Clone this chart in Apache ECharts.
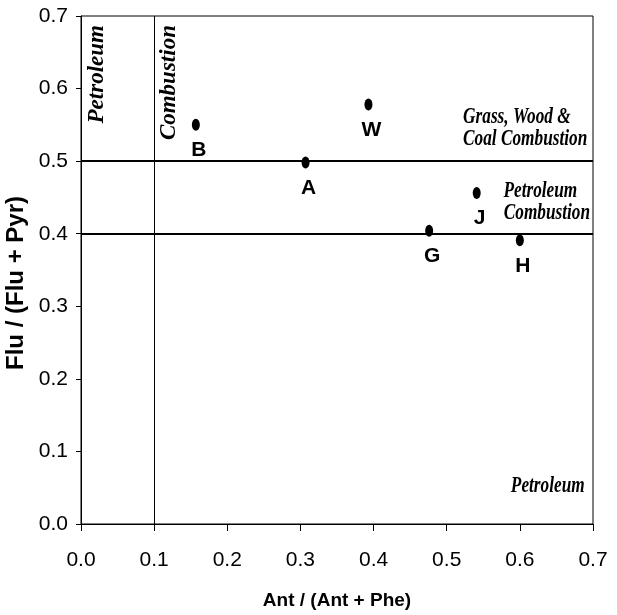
<!DOCTYPE html>
<html>
<head>
<meta charset="utf-8">
<script src="https://cdn.jsdelivr.net/npm/echarts@6.0.0/dist/echarts.min.js"></script>
<style>
html,body{margin:0;padding:0;background:#fff;}
#chart{width:617px;height:615px;}
</style>
</head>
<body>
<div id="chart"></div>
<script>
// ---- data ----
const sites = ['B', 'A', 'W', 'G', 'J', 'H'];
const antRatio = [0.157, 0.307, 0.393, 0.476, 0.541, 0.600];   // Ant / (Ant + Phe)
const fluRatio = [0.550, 0.498, 0.578, 0.404, 0.456, 0.391];   // Flu / (Flu + Pyr)
const verticalThresholds = [0.1];
const horizontalThresholds = [0.5, 0.4];
const xAxisTitle = 'Ant / (Ant + Phe)';
const yAxisTitle = 'Flu / (Flu + Pyr)';
const zoneLabels = ['Petroleum', 'Combustion', 'Grass, Wood &', 'Coal Combustion', 'Petroleum', 'Combustion', 'Petroleum'];

const SANS = '"Liberation Sans", Arial, sans-serif';
const SERIF = '"Liberation Serif", "Times New Roman", serif';

const chart = echarts.init(document.getElementById('chart'), null, {renderer: 'canvas'});

const points = sites.map((s, i) => ({name: s, value: [antRatio[i], fluRatio[i]]}));
const lineData = verticalThresholds.map(v => ({xAxis: v, lineStyle: {width: 1}}))
  .concat(horizontalThresholds.map(v => ({yAxis: v, lineStyle: {width: 2}})));

chart.setOption({
  animation: false,
  backgroundColor: '#fff',
  grid: {left: 81, right: 24, top: 16, bottom: 91, containLabel: false, outerBoundsMode: 'none',
         show: true, borderColor: '#000', borderWidth: 1, backgroundColor: 'transparent'},
  xAxis: {
    type: 'value', min: 0, max: 0.7, interval: 0.1,
    name: xAxisTitle, nameLocation: 'middle', nameGap: 67,
    nameTextStyle: {fontFamily: SANS, fontWeight: 'bold', fontSize: 19, color: '#000'},
    axisLine: {show: true, onZero: false, lineStyle: {color: '#000', width: 1}},
    axisTick: {show: true, inside: false, length: 7, lineStyle: {color: '#000', width: 1}},
    axisLabel: {margin: 26, fontFamily: SANS, fontSize: 21, color: '#000',
                formatter: v => v.toFixed(1)},
    splitLine: {show: false}
  },
  yAxis: {
    type: 'value', min: 0, max: 0.7, interval: 0.1,
    name: yAxisTitle, nameLocation: 'middle', nameGap: 46, nameRotate: 90,
    nameTextStyle: {fontFamily: SANS, fontWeight: 'bold', fontSize: 24, color: '#000',
                    padding: [0, 26, 0, 0]},
    axisLine: {show: true, onZero: false, lineStyle: {color: '#000', width: 1}},
    axisTick: {show: true, inside: false, length: 5, lineStyle: {color: '#000', width: 1}},
    axisLabel: {margin: 13, fontFamily: SANS, fontSize: 21, color: '#000',
                formatter: v => v.toFixed(1)},
    splitLine: {show: false}
  },
  series: [{
    type: 'scatter',
    data: points,
    symbol: 'circle',
    symbolSize: [8, 12],
    itemStyle: {color: '#000', opacity: 1},
    label: {
      show: true, position: 'bottom', distance: 9, offset: [3, 0],
      formatter: p => p.name,
      fontFamily: SANS, fontWeight: 'bold', fontSize: 21, color: '#000'
    },
    emphasis: {disabled: true},
    markLine: {
      silent: true, symbol: ['none', 'none'], animation: false,
      label: {show: false},
      lineStyle: {type: 'solid', color: '#000', opacity: 1},
      emphasis: {disabled: true},
      data: lineData
    },
    z: 5
  }]
});

// zone annotations, anchored in data coordinates
function px(x, y) { return chart.convertToPixel({gridIndex: 0}, [x, y]); }
const annFont = {fontFamily: SERIF, fontWeight: 'bold', fontStyle: 'italic', fontSize: 23, fill: '#000'};
function hText(text, dx, dy) {
  const p = px(dx, dy);
  return {type: 'text', x: p[0], y: p[1], scaleX: 0.75, silent: true, z: 10,
          style: Object.assign({text: text, align: 'left', verticalAlign: 'middle'}, annFont)};
}
function vText(text, dx, dy) {
  const p = px(dx, dy);
  return {type: 'text', x: p[0], y: p[1], rotation: Math.PI / 2, silent: true, z: 10,
          style: Object.assign({text: text, align: 'right', verticalAlign: 'middle'}, annFont)};
}
chart.setOption({
  graphic: [
    vText(zoneLabels[0], 0.0219, 0.6875),
    vText(zoneLabels[1], 0.1198, 0.6875),
    hText(zoneLabels[2], 0.5224, 0.5614),
    hText(zoneLabels[3], 0.5224, 0.5307),
    hText(zoneLabels[4], 0.5776, 0.4581),
    hText(zoneLabels[5], 0.5780, 0.4288),
    hText(zoneLabels[6], 0.5877, 0.0520)
  ]
});
</script>
</body>
</html>
